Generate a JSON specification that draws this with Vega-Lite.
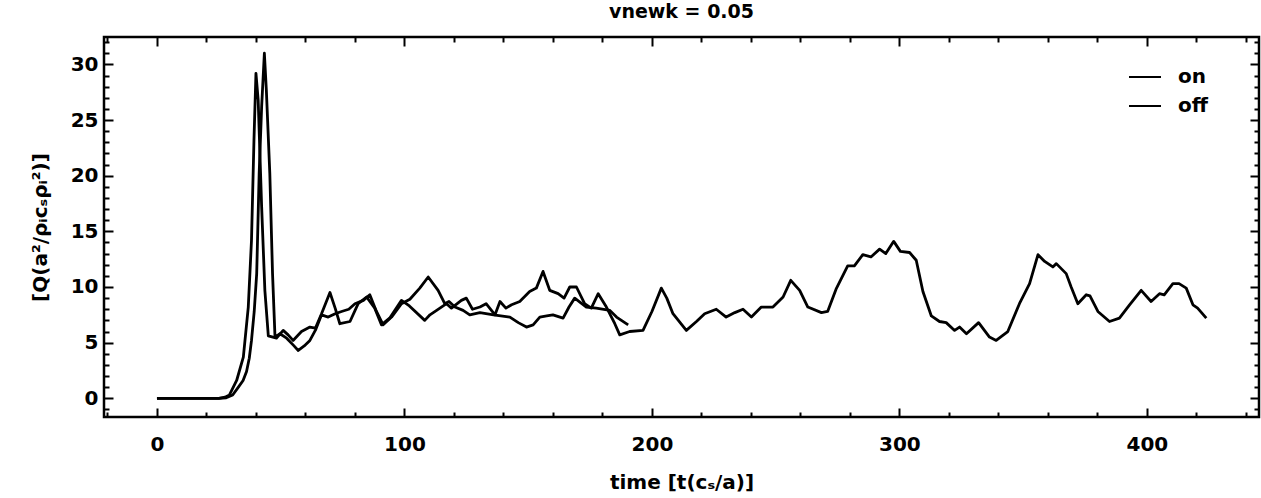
{
  "$schema": "https://vega.github.io/schema/vega-lite/v6.json",
  "width": 1155,
  "height": 380,
  "autosize": "none",
  "padding": {"left": 104, "top": 37, "right": 2, "bottom": 81},
  "background": "white",
  "config": {
    "view": {"stroke": "black", "strokeWidth": 2.5},
    "font": "DejaVu Sans"
  },
  "title": {"text": "vnewk = 0.05", "fontSize": 19, "fontWeight": "bold", "font": "DejaVu Sans", "color": "black", "offset": 14},
  "datasets": {
    "pts": [
      {"t": 0, "v": 0, "s": "on"}, {"t": 25, "v": 0, "s": "on"}, {"t": 28, "v": 0.05, "s": "on"}, {"t": 30.6, "v": 0.3, "s": "on"}, {"t": 32.9, "v": 1.0, "s": "on"}, {"t": 34.8, "v": 1.6, "s": "on"}, {"t": 36.2, "v": 2.4, "s": "on"}, {"t": 37.3, "v": 3.6, "s": "on"}, {"t": 38.2, "v": 5.2, "s": "on"}, {"t": 39.3, "v": 7.8, "s": "on"}, {"t": 40.3, "v": 11.2, "s": "on"}, {"t": 41.3, "v": 20.2, "s": "on"}, {"t": 42.3, "v": 26.2, "s": "on"}, {"t": 43.4, "v": 31.0, "s": "on"}, {"t": 44.2, "v": 27.7, "s": "on"}, {"t": 45.6, "v": 20.2, "s": "on"}, {"t": 46.7, "v": 11.2, "s": "on"}, {"t": 47.7, "v": 5.5, "s": "on"}, {"t": 49.7, "v": 5.8, "s": "on"}, {"t": 52.4, "v": 5.4, "s": "on"}, {"t": 55, "v": 4.8, "s": "on"}, {"t": 57.1, "v": 4.3, "s": "on"}, {"t": 59.5, "v": 4.7, "s": "on"}, {"t": 61.8, "v": 5.2, "s": "on"}, {"t": 64.2, "v": 6.2, "s": "on"}, {"t": 66.5, "v": 7.5, "s": "on"}, {"t": 69.2, "v": 7.3, "s": "on"}, {"t": 72, "v": 7.6, "s": "on"}, {"t": 74.6, "v": 7.8, "s": "on"}, {"t": 77.5, "v": 8.0, "s": "on"}, {"t": 80, "v": 8.5, "s": "on"}, {"t": 83.4, "v": 8.8, "s": "on"}, {"t": 86, "v": 9.3, "s": "on"}, {"t": 88.7, "v": 7.8, "s": "on"}, {"t": 91.4, "v": 6.6, "s": "on"}, {"t": 94.8, "v": 7.3, "s": "on"}, {"t": 98.8, "v": 8.5, "s": "on"}, {"t": 102.2, "v": 8.9, "s": "on"}, {"t": 106.2, "v": 9.9, "s": "on"}, {"t": 109.6, "v": 10.9, "s": "on"}, {"t": 113.6, "v": 9.7, "s": "on"}, {"t": 116.3, "v": 8.5, "s": "on"}, {"t": 118, "v": 8.7, "s": "on"}, {"t": 120.4, "v": 8.2, "s": "on"}, {"t": 123.7, "v": 7.9, "s": "on"}, {"t": 126.4, "v": 7.5, "s": "on"}, {"t": 130.5, "v": 7.7, "s": "on"}, {"t": 136, "v": 7.5, "s": "on"}, {"t": 142.6, "v": 7.3, "s": "on"}, {"t": 146, "v": 6.8, "s": "on"}, {"t": 149.3, "v": 6.4, "s": "on"}, {"t": 152, "v": 6.6, "s": "on"}, {"t": 154.7, "v": 7.3, "s": "on"}, {"t": 157.5, "v": 7.4, "s": "on"}, {"t": 160, "v": 7.5, "s": "on"}, {"t": 164.1, "v": 7.2, "s": "on"}, {"t": 166.5, "v": 8.2, "s": "on"}, {"t": 168.8, "v": 9.0, "s": "on"}, {"t": 173.5, "v": 8.2, "s": "on"}, {"t": 177.5, "v": 8.1, "s": "on"}, {"t": 183, "v": 7.9, "s": "on"}, {"t": 185.7, "v": 7.3, "s": "on"}, {"t": 190.4, "v": 6.6, "s": "on"},

      {"t": 0, "v": 0, "s": "off"}, {"t": 25, "v": 0, "s": "off"}, {"t": 27.5, "v": 0.1, "s": "off"}, {"t": 29.3, "v": 0.3, "s": "off"}, {"t": 32.2, "v": 1.6, "s": "off"}, {"t": 34.9, "v": 3.7, "s": "off"}, {"t": 36.9, "v": 8.2, "s": "off"}, {"t": 38.2, "v": 14.2, "s": "off"}, {"t": 39.2, "v": 23.2, "s": "off"}, {"t": 40, "v": 29.2, "s": "off"}, {"t": 40.9, "v": 26.8, "s": "off"}, {"t": 42.3, "v": 17.2, "s": "off"}, {"t": 43.6, "v": 9.7, "s": "off"}, {"t": 45, "v": 5.6, "s": "off"}, {"t": 48.3, "v": 5.4, "s": "off"}, {"t": 51, "v": 6.1, "s": "off"}, {"t": 53, "v": 5.7, "s": "off"}, {"t": 55, "v": 5.2, "s": "off"}, {"t": 58.4, "v": 6.0, "s": "off"}, {"t": 61.8, "v": 6.4, "s": "off"}, {"t": 64, "v": 6.3, "s": "off"}, {"t": 66.5, "v": 7.6, "s": "off"}, {"t": 69.9, "v": 9.5, "s": "off"}, {"t": 72, "v": 8.1, "s": "off"}, {"t": 73.9, "v": 6.7, "s": "off"}, {"t": 78, "v": 6.9, "s": "off"}, {"t": 81.3, "v": 8.5, "s": "off"}, {"t": 84.7, "v": 9.1, "s": "off"}, {"t": 88, "v": 8.1, "s": "off"}, {"t": 90.7, "v": 6.6, "s": "off"}, {"t": 94, "v": 7.2, "s": "off"}, {"t": 98.8, "v": 8.8, "s": "off"}, {"t": 102, "v": 8.3, "s": "off"}, {"t": 108.2, "v": 7.0, "s": "off"}, {"t": 110.3, "v": 7.5, "s": "off"}, {"t": 113, "v": 7.9, "s": "off"}, {"t": 117, "v": 8.5, "s": "off"}, {"t": 119, "v": 8.1, "s": "off"}, {"t": 123, "v": 8.8, "s": "off"}, {"t": 125, "v": 9.0, "s": "off"}, {"t": 127.5, "v": 8.0, "s": "off"}, {"t": 130.5, "v": 8.2, "s": "off"}, {"t": 133, "v": 8.5, "s": "off"}, {"t": 136.6, "v": 7.5, "s": "off"}, {"t": 138.6, "v": 8.7, "s": "off"}, {"t": 141, "v": 8.1, "s": "off"}, {"t": 143.3, "v": 8.4, "s": "off"}, {"t": 146.6, "v": 8.7, "s": "off"}, {"t": 150.6, "v": 9.6, "s": "off"}, {"t": 153.3, "v": 9.9, "s": "off"}, {"t": 156, "v": 11.4, "s": "off"}, {"t": 158.7, "v": 9.7, "s": "off"}, {"t": 162.1, "v": 9.4, "s": "off"}, {"t": 164.5, "v": 9.0, "s": "off"}, {"t": 166.8, "v": 10.0, "s": "off"}, {"t": 169.5, "v": 10.0, "s": "off"}, {"t": 172.8, "v": 8.5, "s": "off"}, {"t": 175.5, "v": 8.1, "s": "off"}, {"t": 178.3, "v": 9.4, "s": "off"}, {"t": 181.6, "v": 8.2, "s": "off"}, {"t": 185, "v": 6.7, "s": "off"}, {"t": 187, "v": 5.7, "s": "off"}, {"t": 191, "v": 6.0, "s": "off"}, {"t": 196.4, "v": 6.1, "s": "off"}, {"t": 200, "v": 7.8, "s": "off"}, {"t": 203.8, "v": 9.9, "s": "off"}, {"t": 206, "v": 9.0, "s": "off"}, {"t": 208.5, "v": 7.6, "s": "off"}, {"t": 213.9, "v": 6.1, "s": "off"}, {"t": 218, "v": 6.9, "s": "off"}, {"t": 221.3, "v": 7.6, "s": "off"}, {"t": 226, "v": 8.0, "s": "off"}, {"t": 230, "v": 7.3, "s": "off"}, {"t": 233.5, "v": 7.7, "s": "off"}, {"t": 236.8, "v": 8.0, "s": "off"}, {"t": 240.2, "v": 7.3, "s": "off"}, {"t": 244.2, "v": 8.2, "s": "off"}, {"t": 248.9, "v": 8.2, "s": "off"}, {"t": 253, "v": 9.1, "s": "off"}, {"t": 256.1, "v": 10.6, "s": "off"}, {"t": 259.7, "v": 9.7, "s": "off"}, {"t": 263, "v": 8.2, "s": "off"}, {"t": 268.5, "v": 7.7, "s": "off"}, {"t": 271, "v": 7.8, "s": "off"}, {"t": 274.4, "v": 9.8, "s": "off"}, {"t": 279.1, "v": 11.9, "s": "off"}, {"t": 281.8, "v": 11.9, "s": "off"}, {"t": 285.2, "v": 12.9, "s": "off"}, {"t": 288.5, "v": 12.7, "s": "off"}, {"t": 292, "v": 13.4, "s": "off"}, {"t": 294.5, "v": 13.0, "s": "off"}, {"t": 297.7, "v": 14.1, "s": "off"}, {"t": 300.4, "v": 13.2, "s": "off"}, {"t": 304.1, "v": 13.1, "s": "off"}, {"t": 306.8, "v": 12.4, "s": "off"}, {"t": 309.5, "v": 9.6, "s": "off"}, {"t": 312.9, "v": 7.4, "s": "off"}, {"t": 316.2, "v": 6.9, "s": "off"}, {"t": 318.9, "v": 6.8, "s": "off"}, {"t": 322.3, "v": 6.1, "s": "off"}, {"t": 324.3, "v": 6.4, "s": "off"}, {"t": 327.1, "v": 5.8, "s": "off"}, {"t": 332, "v": 6.8, "s": "off"}, {"t": 336.4, "v": 5.5, "s": "off"}, {"t": 339.1, "v": 5.2, "s": "off"}, {"t": 343.8, "v": 6.0, "s": "off"}, {"t": 348.5, "v": 8.5, "s": "off"}, {"t": 352.6, "v": 10.3, "s": "off"}, {"t": 356, "v": 12.9, "s": "off"}, {"t": 358.7, "v": 12.3, "s": "off"}, {"t": 362, "v": 11.8, "s": "off"}, {"t": 363.4, "v": 12.1, "s": "off"}, {"t": 367.4, "v": 11.2, "s": "off"}, {"t": 369.4, "v": 10.0, "s": "off"}, {"t": 372.1, "v": 8.5, "s": "off"}, {"t": 375.5, "v": 9.3, "s": "off"}, {"t": 377, "v": 9.2, "s": "off"}, {"t": 380.2, "v": 7.8, "s": "off"}, {"t": 384.9, "v": 6.9, "s": "off"}, {"t": 388.9, "v": 7.2, "s": "off"}, {"t": 393, "v": 8.4, "s": "off"}, {"t": 397.7, "v": 9.7, "s": "off"}, {"t": 401.7, "v": 8.7, "s": "off"}, {"t": 405.1, "v": 9.4, "s": "off"}, {"t": 407, "v": 9.3, "s": "off"}, {"t": 410.5, "v": 10.3, "s": "off"}, {"t": 413, "v": 10.3, "s": "off"}, {"t": 415.9, "v": 9.9, "s": "off"}, {"t": 418.6, "v": 8.4, "s": "off"}, {"t": 420.5, "v": 8.1, "s": "off"}, {"t": 424, "v": 7.2, "s": "off"}
    ]
  },
  "data": {"name": "pts"},
  "layer": [
    {
      "mark": {"type": "line", "strokeWidth": 2.8, "strokeJoin": "round", "clip": true},
      "encoding": {
        "x": {
          "field": "t", "type": "quantitative",
          "scale": {"domain": [-21.4, 445.3], "nice": false, "zero": false},
          "axis": {
            "orient": "bottom",
            "title": "time [t(cₛ/a)]",
            "values": [-20, 0, 20, 40, 60, 80, 100, 120, 140, 160, 180, 200, 220, 240, 260, 280, 300, 320, 340, 360, 380, 400, 420, 440],
            "labelExpr": "datum.value % 100 === 0 ? datum.label : ''",
            "tickSize": {"condition": {"test": "datum.value % 100 === 0", "value": -9}, "value": -5},
            "tickWidth": 2, "tickColor": "black", "domain": false, "grid": false,
            "labelFontSize": 20, "labelFontWeight": "bold", "labelColor": "black", "labelPadding": 26, "labelFlush": false,
            "labelFont": "DejaVu Sans",
            "titleFontSize": 20, "titleFontWeight": "bold", "titleColor": "black", "titlePadding": 18, "titleFont": "DejaVu Sans"
          }
        },
        "y": {
          "field": "v", "type": "quantitative",
          "scale": {"domain": [-1.68, 32.46], "nice": false, "zero": false},
          "axis": {
            "orient": "left",
            "title": "[Q(a²/ρᵢcₛρᵢ²)]",
            "values": [-1, 0, 1, 2, 3, 4, 5, 6, 7, 8, 9, 10, 11, 12, 13, 14, 15, 16, 17, 18, 19, 20, 21, 22, 23, 24, 25, 26, 27, 28, 29, 30, 31, 32],
            "labelExpr": "datum.value % 5 === 0 ? datum.label : ''",
            "tickSize": {"condition": {"test": "datum.value % 5 === 0", "value": -9}, "value": -5},
            "tickWidth": 2, "tickColor": "black", "domain": false, "grid": false,
            "labelFontSize": 20, "labelFontWeight": "bold", "labelColor": "black", "labelPadding": 15, "labelFlush": false,
            "labelFont": "DejaVu Sans",
            "titleFontSize": 20, "titleFontWeight": "bold", "titleColor": "black", "titlePadding": 20, "titleFont": "DejaVu Sans"
          }
        },
        "color": {
          "field": "s", "type": "nominal",
          "scale": {"domain": ["on", "off"], "range": ["black", "black"]},
          "legend": {
            "title": null, "orient": "none", "legendX": 1024, "legendY": 23, "padding": 0,
            "symbolType": "stroke", "symbolSize": 1024, "symbolStrokeWidth": 2, "symbolStrokeColor": "black",
            "labelFontSize": 20, "labelFontWeight": "bold", "labelFont": "DejaVu Sans", "labelColor": "black",
            "labelOffset": 16, "rowPadding": 2
          }
        }
      }
    },
    {
      "mark": {"type": "line", "strokeOpacity": 0},
      "encoding": {
        "x": {
          "field": "t", "type": "quantitative",
          "axis": {
            "orient": "top", "title": null, "labels": false, "domain": false, "grid": false,
            "values": [-20, 0, 20, 40, 60, 80, 100, 120, 140, 160, 180, 200, 220, 240, 260, 280, 300, 320, 340, 360, 380, 400, 420, 440],
            "tickSize": {"condition": {"test": "datum.value % 100 === 0", "value": -9}, "value": -5},
            "tickWidth": 2, "tickColor": "black"
          }
        },
        "y": {
          "field": "v", "type": "quantitative",
          "axis": {
            "orient": "right", "title": null, "labels": false, "domain": false, "grid": false,
            "values": [-1, 0, 1, 2, 3, 4, 5, 6, 7, 8, 9, 10, 11, 12, 13, 14, 15, 16, 17, 18, 19, 20, 21, 22, 23, 24, 25, 26, 27, 28, 29, 30, 31, 32],
            "tickSize": {"condition": {"test": "datum.value % 5 === 0", "value": -9}, "value": -5},
            "tickWidth": 2, "tickColor": "black"
          }
        },
        "detail": {"field": "s", "type": "nominal"}
      }
    }
  ],
  "resolve": {"axis": {"x": "independent", "y": "independent"}}
}
